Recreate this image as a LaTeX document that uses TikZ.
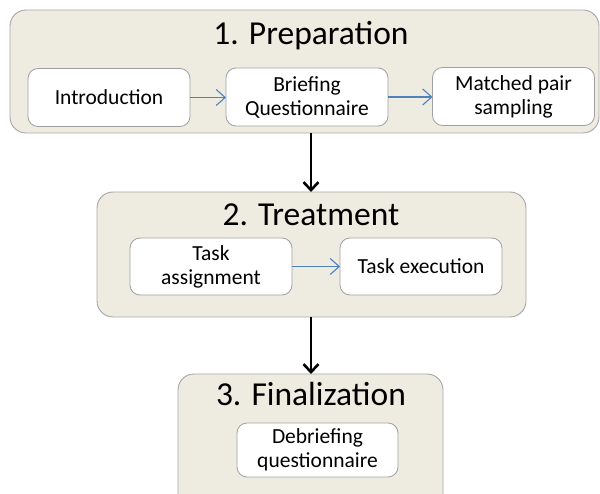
\documentclass[tikz,border=0pt]{standalone}
\usepackage{fontspec}
\setmainfont{Carlito}
\usetikzlibrary{arrows.meta}
\definecolor{stagefill}{HTML}{EEECE1}
\definecolor{stageline}{HTML}{A6A6A6}
\definecolor{stepline}{HTML}{A0A0A0}
\definecolor{flowblue}{HTML}{4F81BD}
\begin{document}
\begin{tikzpicture}[x=1pt,y=-1pt,
  stage/.style={draw=stageline, fill=stagefill, line width=0.9pt,
    rounded corners=16pt, inner sep=0pt, outer sep=0pt},
  stagetitle/.style={anchor=base, inner sep=0pt, font=\fontsize{33.5}{37}\selectfont},
  stepbox/.style={draw=stepline, fill=white, line width=0.8pt,
    rounded corners=10pt, inner sep=0pt, outer sep=0pt,
    minimum width=162pt, minimum height=58pt, align=center,
    font=\fontsize{21.5}{24}\selectfont},
  innerflow/.style={draw=flowblue, line width=1.1pt,
    -{Straight Barb[length=9pt,width=16pt,line width=1.1pt]}},
  stageflow/.style={draw=black, line width=2.6pt,
    -{Straight Barb[length=8pt,width=15pt,line width=2.6pt]}}]
\clip (0,0) rectangle (600,494);
\useasboundingbox (0,0) rectangle (600,494);

% stage containers
\node[stage, minimum width=589pt, minimum height=123pt] (prep) at (304.5,71.5) {};
\node[stage, minimum width=429pt, minimum height=125pt] (treat) at (311.5,254.5) {};
\node[stage, minimum width=265pt, minimum height=136pt] (final) at (310.5,442) {};

% stage titles
\node[stagetitle] (t1) at (311,45) {1. Preparation};
\node[stagetitle] (t2) at (311,226) {2. Treatment};
\node[stagetitle] (t3) at (311,406) {3. Finalization};

% steps of stage 1
\node[stepbox] (intro) at (109,97.5) {Introduction};
\node[stepbox] (brief) at (307,97) {Briefing\\Questionnaire};
\node[stepbox] (match) at (513.5,96.5) {Matched pair\\sampling};

% steps of stage 2
\node[stepbox, minimum height=57pt] (assign) at (211,266.5) {Task\\assignment};
\node[stepbox, minimum height=57pt] (exec) at (421,266.5) {Task execution};

% step of stage 3
\node[stepbox, minimum width=161pt, minimum height=54pt] (debrief) at (317.5,450) {Debriefing\\questionnaire};

% flow inside stages
\draw[innerflow] (intro.east) -- (intro.east -| brief.west);
\draw[innerflow] (brief.east) -- (brief.east -| match.west);
\draw[innerflow] (assign.east) -- (assign.east -| exec.west);

% flow between stages
\draw[stageflow] (t1 |- prep.south) -- (t1 |- treat.north);
\draw[stageflow] (t1 |- treat.south) -- (t1 |- final.north);
\end{tikzpicture}
\end{document}
